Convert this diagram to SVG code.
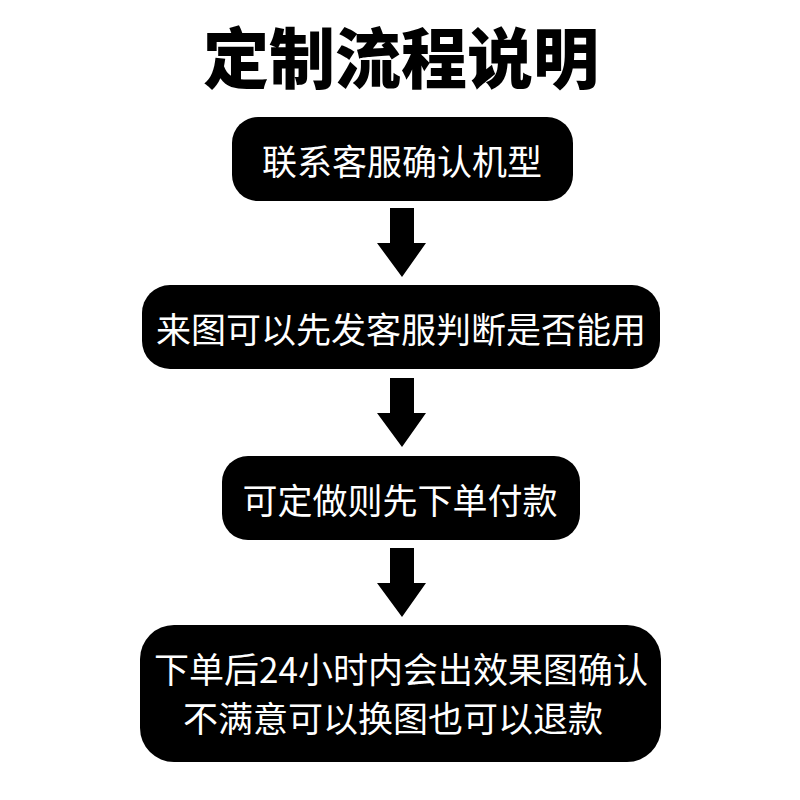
<svg xmlns="http://www.w3.org/2000/svg" width="800" height="800" viewBox="0 0 800 800">
<style>
.box{fill:#000}
.t{fill:#fff;font-family:"Noto Sans CJK SC","Noto Sans",sans-serif;font-size:35px;text-anchor:middle;dominant-baseline:central}
.title{fill:#000;font-family:"Noto Sans CJK SC",sans-serif;font-size:66px;font-weight:900;text-anchor:middle;dominant-baseline:central}
.arrow{fill:#000}
</style>
<rect width="800" height="800" fill="#fff"/>
<text class="title" x="401" y="54">定制流程说明</text>
<g id="connectors">
<path class="arrow" d="M390,208 H414 V243 H426 L402,277 L377,243 H390 Z"/>
<path class="arrow" d="M390,378 H414 V413 H426 L402,447 L377,413 H390 Z"/>
<path class="arrow" d="M390,548 H414 V583 H426 L402,617 L377,583 H390 Z"/>
</g>
<g id="n1">
<rect class="box" x="232" y="117" width="341" height="84" rx="26"/>
<text class="t" x="402" y="159">联系客服确认机型</text>
</g>
<g id="n2">
<rect class="box" x="142" y="285" width="518" height="84" rx="28"/>
<text class="t" x="401" y="327">来图可以先发客服判断是否能用</text>
</g>
<g id="n3">
<rect class="box" x="222" y="456" width="358" height="84" rx="26"/>
<text class="t" x="400" y="498">可定做则先下单付款</text>
</g>
<g id="n4">
<rect class="box" x="140" y="625" width="521" height="137" rx="34"/>
<text class="t" x="401" y="667">下单后24小时内会出效果图确认</text>
<text class="t" x="393" y="716">不满意可以换图也可以退款</text>
</g>
</svg>
